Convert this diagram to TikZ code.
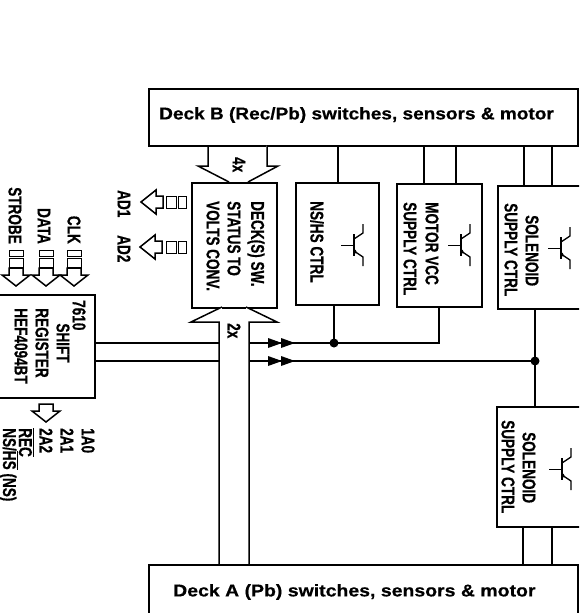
\documentclass[tikz,border=0pt]{standalone}
\usepackage{fontspec}
\setmainfont{Liberation Sans}
\newfontfamily\condf[FakeStretch=0.73,FakeBold=0.5]{Liberation Sans Bold}
\newfontfamily\widef[FakeStretch=1.12,FakeBold=0.5]{Liberation Sans Bold}
\newfontfamily\widefa[FakeStretch=1.145,FakeBold=0.5]{Liberation Sans Bold}
\tikzset{
  x=1pt,y=-1pt,
  ln/.style={line width=1.5pt,black},
  box/.style={draw=black,line width=1.5pt,fill=white,inner sep=0pt,anchor=north west},
  vtxt/.style={rotate=-90,inner sep=0pt,font=\condf\fontsize{18.6}{19}\selectfont},
  htxt/.style={inner sep=0pt,anchor=west,font=\widef\fontsize{17}{17}\selectfont},
  htxta/.style={inner sep=0pt,anchor=west,font=\widefa\fontsize{17}{17}\selectfont},
  hollow/.style={draw=black,line width=1.5pt,fill=white,line join=miter},
  sq/.style={draw=black,line width=1pt,fill=white},
  dot/.style={circle,fill=black,inner sep=0pt,minimum size=9pt},
  trans/.pic={
    \draw[line width=1pt] (-13,0) -- (0,0);
    \draw[line width=1.4pt] (0,-11) -- (0,11);
    \draw[line width=1.3pt] (0,-6) -- (9,-12) -- (9,-21);
    \draw[line width=1.3pt] (0,6) -- (9,12) -- (9,21);
    \fill (3,8) -- (0,8.5) -- (1.5,4.5) -- cycle;
  },
  inarrow/.pic={
    \draw[hollow] (-7,-18) -- (7,-18) -- (7,-11) -- (14,-11) -- (0,0) -- (-14,-11) -- (-7,-11) -- cycle;
  },
  outarrow/.pic={
    \draw[hollow] (22,-6) -- (22,6) -- (15,6) -- (15,12) -- (0,0) -- (15,-12) -- (15,-6) -- cycle;
  },
  dblhead/.pic={
    \fill (0,-5) -- (14,0) -- (0,5) -- cycle;
    \fill (13,-5) -- (27,0) -- (13,5) -- cycle;
  }
}
\newcommand{\sqdown}[1]{%
  \draw[sq] (#1-7,250) rectangle (#1+7,256);
  \draw[sq] (#1-7,258) rectangle (#1+7,267);
}
\newcommand{\sqleft}[1]{%
  \draw[sq] (166,#1-6) rectangle (176,#1+6);
  \draw[sq] (178,#1-6) rectangle (186,#1+6);
}
\begin{document}
\begin{tikzpicture}
\useasboundingbox (0,0) rectangle (579,613);
\clip (0,0) rectangle (579,613);
\fill[white] (0,0) rectangle (579,613);

% Boxes
\node[box,minimum width=429pt,minimum height=57pt] (deckB) at (148,88) {};
\node[box,minimum width=429pt,minimum height=60pt] (deckA) at (148,564) {};
\node[box,minimum width=85pt,minimum height=125pt] (conv) at (191,182) {};
\node[box,minimum width=83pt,minimum height=122pt] (nshs) at (295,182) {};
\node[box,minimum width=85pt,minimum height=123pt] (motor) at (396,183) {};
\node[box,minimum width=95pt,minimum height=123pt] (solA) at (497,185) {};
\node[box,minimum width=95pt,minimum height=120pt] (solB) at (496,406) {};
\node[box,minimum width=100pt,minimum height=103pt] (shift) at (-6,294) {};

% Coordinates of junctions
\coordinate (j1) at (334,343);
\coordinate (j2) at (535,361);
\coordinate (s1) at (shift.east |- j1);
\coordinate (s2) at (shift.east |- j2);
\coordinate (b1l) at (219,343);
\coordinate (b1r) at (249,343);
\coordinate (b2l) at (219,361);
\coordinate (b2r) at (249,361);
\coordinate (mc) at (439,343);

% Wires
\draw[ln] (deckB.south -| 338,0) -- (nshs.north -| 338,0);
\draw[ln] (deckB.south -| 424,0) -- (motor.north -| 424,0);
\draw[ln] (deckB.south -| 456,0) -- (motor.north -| 456,0);
\draw[ln] (deckB.south -| 524,0) -- (solA.north -| 524,0);
\draw[ln] (deckB.south -| 552,0) -- (solA.north -| 552,0);
\draw[ln] (solB.south -| 523,0) -- (deckA.north -| 523,0);
\draw[ln] (solB.south -| 552,0) -- (deckA.north -| 552,0);
\draw[ln] (s1) -- (b1l);
\draw[ln] (s2) -- (b2l);
\draw[ln] (b1r) -- (j1) -- (mc) -- (motor.south -| mc);
\draw[ln] (b2r) -- (j2);
\draw[ln] (nshs.south -| j1) -- (j1);
\draw[ln] (solA.south -| j2) -- (j2) -- (solB.north -| j2);
\node[dot] (d1) at (j1) {};
\node[dot] (d2) at (j2) {};
\pic at (268,343) {dblhead};
\pic at (268,361) {dblhead};

% Bus arrows
\draw[hollow] (208,145) -- (208,166) -- (198,166) -- (229,182) (248,182) -- (278,166) -- (267,166) -- (267,145);
\draw[hollow] (219,564) -- (219,322) -- (191,322) -- (222,307) (246,307) -- (277,322) -- (249,322) -- (249,564);

% Signal arrows
\pic at (16,286) {inarrow};
\pic at (46,286) {inarrow};
\pic at (74,286) {inarrow};
\sqdown{16}\sqdown{46}\sqdown{74}
\pic at (46,422) {inarrow};
\pic at (141,202) {outarrow};
\pic at (140,247) {outarrow};
\sqleft{202}\sqleft{247}

% Transistors
\pic at (354,245) {trans};
\pic at (461,245) {trans};
\pic at (561,248) {trans};
\pic at (562,469) {trans};

% Deck labels
\node[htxt] (tB) at (159,115) {Deck B (Rec/Pb) switches, sensors \& motor};
\node[htxta] (tA) at (173,592) {Deck A (Pb) switches, sensors \& motor};

% Outer labels
\node[vtxt,anchor=east] (lstrobe) at (15,244) {STROBE};
\node[vtxt,anchor=east] (ldata) at (44,244) {DATA};
\node[vtxt,anchor=east] (lclk) at (74,244) {CLK};
\node[vtxt,anchor=west] (lad1) at (124,190) {AD1};
\node[vtxt,anchor=west] (lad2) at (124,235) {AD2};
\node[vtxt,anchor=west] (l4x) at (239,157) {4x};
\node[vtxt,anchor=west] (l2x) at (234,323) {2x};

% Shift register labels
\node[vtxt,anchor=west] (t7610) at (79,300) {7610};
\node[vtxt] (tshift) at (63,343) {SHIFT};
\node[vtxt] (treg) at (42,343) {REGISTER};
\node[vtxt] (thef) at (21,346) {HEF4094BT};

% Output labels
\node[vtxt,anchor=west] (o1) at (88,428) {1A0};
\node[vtxt,anchor=west] (o2) at (67,428) {2A1};
\node[vtxt,anchor=west] (o3) at (46,428) {2A2};
\node[vtxt,anchor=base west] (o4) at (19,428) {\smash{$\overline{\mbox{REC}}$}};
\node[vtxt,anchor=base west] (o5) at (3,428) {NS/\smash{$\overline{\mbox{HS}}$} (NS)};

% Box labels
\node[vtxt,anchor=west] (c1) at (256,201) {DECK(S) SW.};
\node[vtxt,anchor=west] (c2) at (234,201) {STATUS TO};
\node[vtxt,anchor=west] (c3) at (213,201) {VOLTS CONV.};
\node[vtxt,anchor=west] (n1) at (317,201) {NS/HS CTRL};
\node[vtxt,anchor=west] (m1) at (432,202) {MOTOR VCC};
\node[vtxt,anchor=west] (m2) at (410,202) {SUPPLY CTRL};
\node[vtxt,anchor=west] (a1) at (532,215) {SOLENOID};
\node[vtxt,anchor=west] (a2) at (511,203) {SUPPLY CTRL};
\node[vtxt,anchor=west] (b1) at (529,432) {SOLENOID};
\node[vtxt,anchor=west] (b2) at (508,420) {SUPPLY CTRL};
\end{tikzpicture}
\end{document}
